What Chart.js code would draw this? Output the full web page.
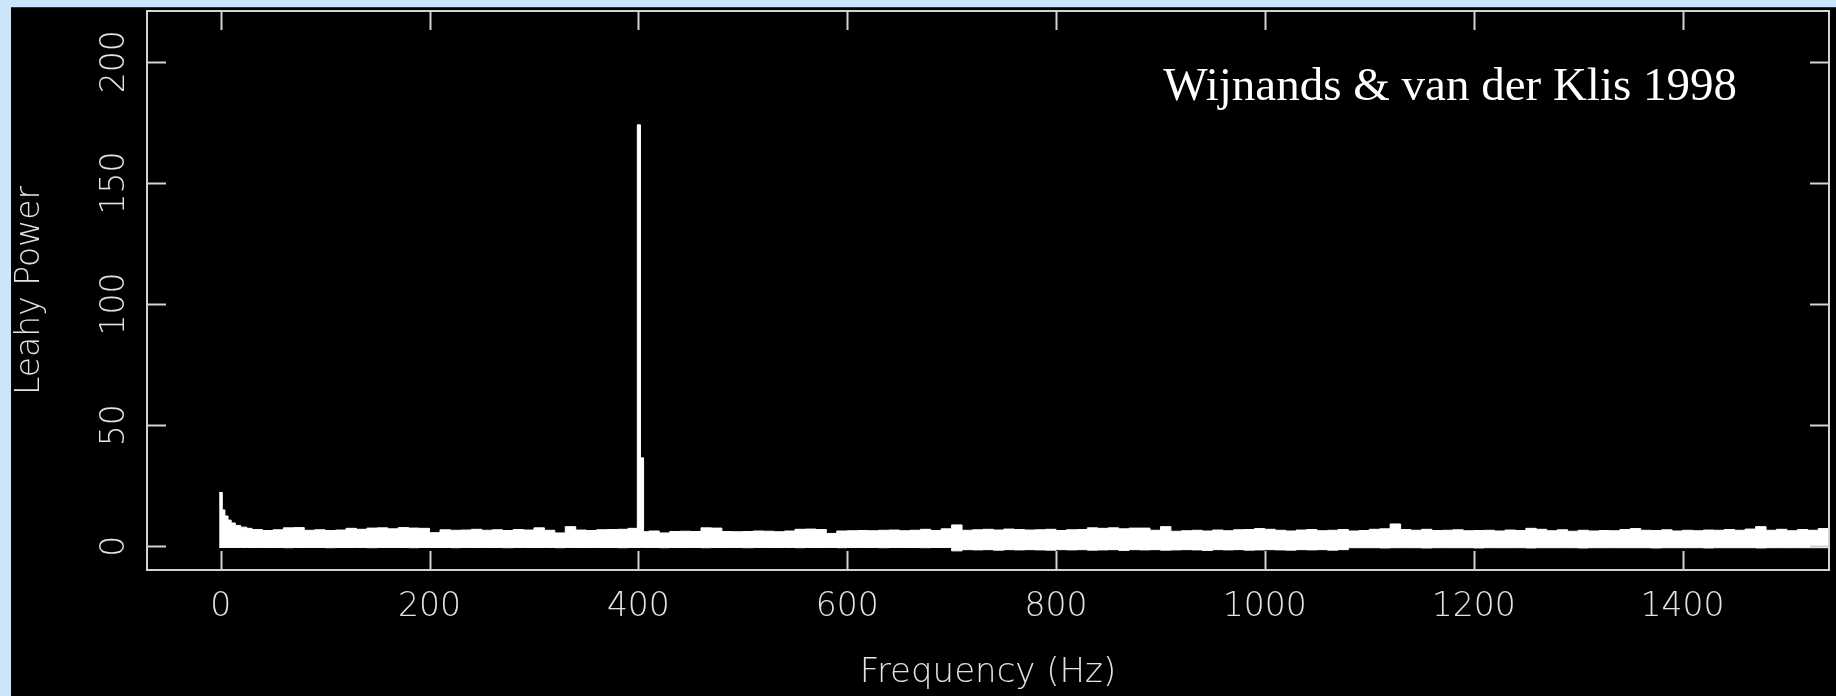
<!DOCTYPE html>
<html><head><meta charset="utf-8">
<script src="https://cdn.jsdelivr.net/npm/chart.js@4.4.1/dist/chart.umd.min.js"></script>
<style>
html,body{margin:0;padding:0;background:#cde5fb;width:1836px;height:696px;overflow:hidden;}
#topline{position:absolute;left:11px;top:7px;width:1825px;height:1px;background:#123a6b;}
#wrap{position:absolute;left:11px;top:8px;width:1825px;height:688px;background:#000;}
</style></head><body>
<div id="topline"></div>
<div id="wrap"><canvas id="c" width="1825" height="688"></canvas></div>
<script>
// Frequency grid (Hz) of the drawn power-spectrum envelope
const freqHz = [-1.5, 1.5, 4, 7, 10, 14, 19, 25, 30,
  40, 50, 60, 70, 80, 90, 100, 110, 120, 130, 140, 150, 160, 170, 180, 190, 200,
  210, 220, 230, 240, 250, 260, 270, 280, 290, 300, 310, 320, 330, 340, 350, 360, 370, 380, 390,
  399, 402, 405,
  410, 420, 430, 440, 450, 460, 470, 480, 490, 500, 510, 520, 530, 540, 550, 560, 570, 580, 590, 600,
  610, 620, 630, 640, 650, 660, 670, 680, 690, 700, 710, 720, 730, 740, 750, 760, 770, 780, 790,
  800, 810, 820, 830, 840, 850, 860, 870, 880, 890, 900, 910, 920, 930, 940, 950, 960, 970, 980, 990,
  1000, 1010, 1020, 1030, 1040, 1050, 1060, 1070, 1080, 1090, 1100, 1110, 1120, 1130, 1140, 1150, 1160, 1170,
  1180, 1190, 1200, 1210, 1220, 1230, 1240, 1250, 1260, 1270, 1280, 1290, 1300, 1310, 1320, 1330, 1340, 1350,
  1360, 1370, 1380, 1390, 1400, 1410, 1420, 1430, 1440, 1450, 1460, 1470, 1480, 1490, 1500, 1510, 1520, 1530, 1540];

// Upper envelope of the Leahy power (value holds from its frequency to the next one)
const powerUpper = [22.2, 15.0, 12.5, 10.8, 9.6, 8.6, 7.9, 7.4, 6.9,
  6.5, 6.8, 7.6, 7.7, 6.6, 6.8, 6.5, 6.7, 7.4, 7.0, 7.5, 7.6, 7.2, 7.7, 7.5, 7.4, 5.6,
  6.8, 6.6, 6.7, 7.0, 6.6, 6.8, 6.5, 6.9, 6.7, 7.6, 6.6, 5.5, 8.1, 6.7, 6.5, 6.8, 6.9, 7.0, 7.4,
  174, 36.5, 6.0,
  6.3, 5.5, 6.1, 6.2, 6.1, 7.6, 7.5, 6.1, 6.0, 6.1, 6.3, 6.2, 6.0, 6.3, 7.0, 7.1, 6.9, 5.3, 6.3, 6.4,
  6.5, 6.4, 6.6, 6.7, 6.4, 6.6, 7.0, 6.5, 7.2, 8.8, 6.6, 6.8, 7.0, 6.7, 7.1, 6.9, 6.7, 6.8, 7.0,
  6.5, 6.8, 6.9, 7.6, 7.4, 7.6, 7.2, 7.5, 7.5, 6.6, 8.1, 6.2, 6.4, 6.6, 6.3, 6.7, 6.4, 6.8, 6.9, 7.3,
  7.0, 6.6, 6.3, 6.7, 6.9, 6.4, 6.6, 6.9, 6.3, 6.5, 7.0, 7.2, 9.2, 6.9, 6.6, 7.0, 6.5, 6.6,
  6.8, 6.4, 6.5, 6.6, 6.3, 6.7, 6.5, 7.4, 7.0, 6.4, 6.8, 6.2, 6.6, 6.3, 6.5, 6.4, 6.9, 7.3,
  6.6, 6.5, 6.8, 6.3, 6.6, 6.4, 6.7, 6.6, 6.9, 6.6, 7.1, 8.1, 6.6, 7.0, 6.4, 6.9, 6.6, 7.3, 6.6];

// Lower envelope of the Leahy power
const powerLower = [-0.5, -0.5, -0.5, -0.5, -0.5, -0.5, -0.5, -0.5, -0.5,
  -0.5, -0.5, -0.6, -0.5, -0.5, -0.5, -0.6, -0.5, -0.5, -0.5, -0.6, -0.5, -0.5, -0.5, -0.6, -0.5, -0.5,
  -0.5, -0.6, -0.5, -0.5, -0.5, -0.5, -0.6, -0.5, -0.5, -0.5, -0.5, -0.6, -0.5, -0.5, -0.5, -0.5, -0.5, -0.6, -0.5,
  -0.5, -0.5, -0.5,
  -0.5, -0.6, -0.5, -0.5, -0.5, -0.6, -0.5, -0.5, -0.5, -0.6, -0.5, -0.5, -0.5, -0.5, -0.6, -0.5, -0.5, -0.5, -0.6, -0.5,
  -0.5, -0.5, -0.6, -0.5, -0.5, -0.5, -0.6, -0.5, -0.5, -1.9, -1.4, -1.5, -1.4, -1.6, -1.4, -1.5, -1.4, -1.5, -1.6,
  -1.4, -1.5, -1.4, -1.6, -1.5, -1.4, -1.7, -1.4, -1.5, -1.4, -1.6, -1.5, -1.4, -1.5, -1.7, -1.4, -1.5, -1.4, -1.6, -1.5,
  -1.4, -1.5, -1.6, -1.4, -1.5, -1.4, -1.6, -1.4, -0.6, -0.6, -0.6, -0.7, -0.6, -0.6, -0.6, -0.7, -0.6, -0.6,
  -0.6, -0.6, -0.7, -0.6, -0.6, -0.6, -0.6, -0.7, -0.6, -0.6, -0.6, -0.6, -0.7, -0.6, -0.6, -0.6, -0.6, -0.6,
  -0.6, -0.7, -0.6, -0.6, -0.6, -0.6, -0.7, -0.6, -0.6, -0.6, -0.6, -0.7, -0.6, -0.6, -0.6, -0.6, -0.6, -0.6, -0.6];

const xTickValues = [0, 200, 400, 600, 800, 1000, 1200, 1400];
const yTickValues = [0, 50, 100, 150, 200];
const xTitle = 'Frequency (Hz)';
const yTitle = 'Leahy Power';
const annotationText = 'Wijnands & van der Klis 1998';

const upperPts = freqHz.map((f, i) => ({x: f, y: powerUpper[i]}));
const lowerPts = freqHz.map((f, i) => ({x: f, y: powerLower[i]}));

const AXIS_COLOR = '#d2d2d2';
const LABEL_COLOR = '#e2e2e2';
const AXIS_FONT = 'DejaVu Sans';
const AXIS_WEIGHT = '200';

const framePlugin = {
  id: 'pgplotFrame',
  afterDraw(chart) {
    const {ctx, chartArea: a, scales} = chart;
    const xs = scales.x, ys = scales.y;
    const tl = 19;
    ctx.save();
    ctx.strokeStyle = AXIS_COLOR;
    ctx.lineWidth = 2;
    ctx.strokeRect(a.left, a.top, a.right - a.left, a.bottom - a.top);
    ctx.beginPath();
    xTickValues.forEach(v => {
      const px = Math.round(xs.getPixelForValue(v)) + 0.5;
      ctx.moveTo(px, a.bottom); ctx.lineTo(px, a.bottom - tl);
      ctx.moveTo(px, a.top); ctx.lineTo(px, a.top + tl);
    });
    yTickValues.forEach(v => {
      const py = Math.round(ys.getPixelForValue(v)) + 0.5;
      ctx.moveTo(a.left, py); ctx.lineTo(a.left + tl, py);
      ctx.moveTo(a.right, py); ctx.lineTo(a.right - tl, py);
    });
    ctx.stroke();
    // rotated y tick labels
    ctx.fillStyle = LABEL_COLOR;
    ctx.font = AXIS_WEIGHT + ' 33px "' + AXIS_FONT + '"';
    ctx.textAlign = 'center';
    ctx.textBaseline = 'middle';
    yTickValues.forEach(v => {
      const py = ys.getPixelForValue(v);
      ctx.save();
      ctx.translate(a.left - 32, py);
      ctx.rotate(-Math.PI / 2);
      ctx.fillText(String(v), 0, 0);
      ctx.restore();
    });
    // annotation
    ctx.fillStyle = '#ffffff';
    ctx.font = '47px "Liberation Serif"';
    ctx.textAlign = 'right';
    ctx.textBaseline = 'alphabetic';
    ctx.fillText(annotationText, a.right - 92, a.top + 89);
    ctx.restore();
  }
};

new Chart(document.getElementById('c'), {
  type: 'line',
  data: {
    datasets: [
      {data: upperPts, borderColor: '#ffffff', backgroundColor: '#ffffff', borderWidth: 1,
       pointRadius: 0, stepped: 'before', fill: '+1'},
      {data: lowerPts, borderColor: '#ffffff', backgroundColor: '#ffffff', borderWidth: 1,
       pointRadius: 0, stepped: 'before', fill: false}
    ]
  },
  options: {
    responsive: false, animation: false, devicePixelRatio: 1,
    layout: {padding: {left: 0, top: 3, right: 7, bottom: 0}},
    plugins: {legend: {display: false}, tooltip: {enabled: false}},
    scales: {
      x: {
        type: 'linear', min: -70.6, max: 1540.3,
        grid: {display: false, drawTicks: false}, border: {display: false},
        afterBuildTicks: s => { s.ticks = xTickValues.map(v => ({value: v})); },
        ticks: {color: LABEL_COLOR, font: {family: AXIS_FONT, size: 33, weight: AXIS_WEIGHT}, padding: 18,
                maxRotation: 0, minRotation: 0, autoSkip: false, callback: v => String(v)},
        title: {display: true, text: xTitle, color: LABEL_COLOR,
                font: {family: AXIS_FONT, size: 34, weight: AXIS_WEIGHT}, padding: {top: 0, bottom: 2}},
        afterFit: s => { s.height = 126; }
      },
      y: {
        type: 'linear', min: -9.8, max: 221,
        grid: {display: false, drawTicks: false}, border: {display: false},
        afterBuildTicks: s => { s.ticks = yTickValues.map(v => ({value: v})); },
        ticks: {display: false},
        title: {display: true, text: yTitle, color: LABEL_COLOR,
                font: {family: AXIS_FONT, size: 33, weight: AXIS_WEIGHT}, padding: {top: 0, bottom: 0}},
        afterFit: s => { s.width = 136; }
      }
    }
  },
  plugins: [framePlugin]
});
</script>
</body></html>
